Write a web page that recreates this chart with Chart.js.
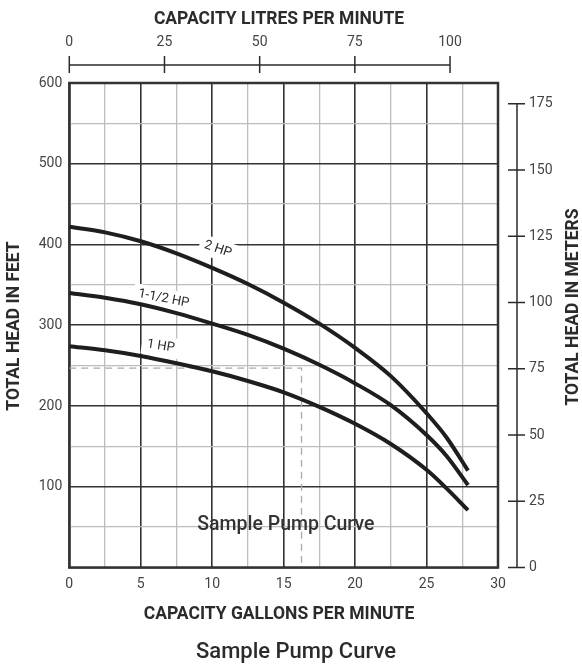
<!DOCTYPE html>
<html>
<head>
<meta charset="utf-8">
<script src="https://cdn.jsdelivr.net/npm/chart.js@4.4.1/dist/chart.umd.min.js"></script>
<style>
  html, body { margin: 0; padding: 0; background: #fff; }
</style>
</head>
<body>
<canvas id="pumpChart" width="582" height="664"></canvas>
<script>
// Capacity (US gallons per minute) where the curves were read
const gpm = [0, 2.5, 5, 7.5, 10, 12.5, 15, 17.5, 20, 22.5, 25, 26.4, 27.9];

// Total head in feet for each pump size
const head2hp  = [422, 415, 404, 389, 371, 351, 328, 302, 272, 237, 191, 161, 120];
const head15hp = [340, 334, 326, 315, 302, 288, 271, 251, 228, 201, 164, 138, 102];
const head1hp  = [274, 269, 262, 253, 243, 231, 217, 199, 178, 153, 121, 98, 71];

const curveNames = ['2 HP', '1-1/2 HP', '1 HP'];
// label anchor for each curve: [gpm, feet, tilt in degrees]
const curveLabelAt = [[10.4, 394, 19], [6.6, 333, 11], [6.4, 274, 9]];

// dashed guide to the sample duty point
const dutyGpm = 16.25;
const dutyFeet = 247;

// tick labels
const gpmTicks = [0, 5, 10, 15, 20, 25, 30];
const feetTicks = [100, 200, 300, 400, 500, 600];
const lpmTicks = [0, 25, 50, 75, 100];
const meterTicks = [0, 25, 50, 75, 100, 125, 150, 175];

// secondary scale ranges (same span as the gpm / feet axes)
const lpmMax = 112.6;
const meterMax = 600 / 3.281;

const INK = '#2b2b2b';
const TICK_FONT = '14px Roboto, sans-serif';
const TITLE_FONT = 'bold 17.5px Roboto, sans-serif';

const guideData = [
    { x: 0, y: dutyFeet },
    { x: dutyGpm, y: dutyFeet },
    { x: dutyGpm, y: 0 }
];

function curve(values) {
    return gpm.map((g, i) => ({ x: g, y: values[i] }));
}

const extras = {
    id: 'extras',
    beforeDatasetsDraw(chart) {
        const { ctx, chartArea: a, scales } = chart;
        ctx.save();
        // plot frame
        ctx.strokeStyle = '#333';
        ctx.lineWidth = 2.5;
        ctx.strokeRect(a.left, a.top, a.right - a.left, a.bottom - a.top);

        // curve names on white patches
        ctx.font = '13px Roboto, sans-serif';
        ctx.textAlign = 'center';
        ctx.textBaseline = 'middle';
        curveNames.forEach((name, i) => {
            const [g, f, tilt] = curveLabelAt[i];
            const px = scales.x.getPixelForValue(g);
            const py = scales.y.getPixelForValue(f);
            const w = ctx.measureText(name).width + 10;
            ctx.save();
            ctx.translate(px, py);
            ctx.rotate(tilt * Math.PI / 180);
            ctx.fillStyle = '#fff';
            ctx.fillRect(-w / 2, -10, w, 20);
            ctx.fillStyle = INK;
            ctx.fillText(name, 0, 0);
            ctx.restore();
        });
        ctx.restore();
    },
    afterDatasetsDraw(chart) {
        const { ctx, scales } = chart;
        ctx.save();
        ctx.font = '500 19.5px Roboto, sans-serif';
        ctx.fillStyle = '#333';
        ctx.textAlign = 'center';
        ctx.textBaseline = 'middle';
        ctx.fillText('Sample Pump Curve', scales.x.getPixelForValue(15.15), scales.y.getPixelForValue(53));
        ctx.restore();
    },
    afterDraw(chart) {
        const { ctx, scales } = chart;
        const top = scales.xTop;
        const right = scales.yM;
        ctx.save();
        ctx.strokeStyle = INK;
        ctx.fillStyle = '#444';
        ctx.lineWidth = 1.5;

        // top axis: litres per minute
        const lineY = 65;
        ctx.beginPath();
        ctx.moveTo(top.getPixelForValue(lpmTicks[0]), lineY);
        ctx.lineTo(top.getPixelForValue(lpmTicks[lpmTicks.length - 1]), lineY);
        lpmTicks.forEach(v => {
            const px = top.getPixelForValue(v);
            ctx.moveTo(px, lineY - 9);
            ctx.lineTo(px, lineY + 8);
        });
        ctx.stroke();
        ctx.font = TICK_FONT;
        ctx.textAlign = 'center';
        ctx.textBaseline = 'middle';
        lpmTicks.forEach(v => ctx.fillText(String(v), top.getPixelForValue(v), 42));

        // right axis: metres
        const lineX = 517;
        ctx.beginPath();
        ctx.moveTo(lineX, right.getPixelForValue(meterTicks[0]));
        ctx.lineTo(lineX, right.getPixelForValue(meterTicks[meterTicks.length - 1]));
        meterTicks.forEach(v => {
            const py = right.getPixelForValue(v);
            ctx.moveTo(lineX - 9, py);
            ctx.lineTo(lineX + 8, py);
        });
        ctx.stroke();
        ctx.textAlign = 'left';
        meterTicks.forEach(v => ctx.fillText(String(v), lineX + 12, right.getPixelForValue(v)));

        // titles
        ctx.fillStyle = INK;
        ctx.font = TITLE_FONT;
        ctx.textAlign = 'center';
        ctx.fillText('CAPACITY LITRES PER MINUTE', 279, 20);
        ctx.fillText('CAPACITY GALLONS PER MINUTE', 279, 615);

        ctx.save();
        ctx.translate(15, 326);
        ctx.rotate(-Math.PI / 2);
        ctx.fillText('TOTAL HEAD IN FEET', 0, 0);
        ctx.restore();

        ctx.save();
        ctx.translate(574, 307);
        ctx.rotate(-Math.PI / 2);
        ctx.fillText('TOTAL HEAD IN METERS', 0, 0);
        ctx.restore();

        ctx.font = '500 22px Roboto, sans-serif';
        ctx.fillText('Sample Pump Curve', 296, 652);
        ctx.restore();
    }
};

const curveStyle = {
    borderColor: '#1e1e1e',
    borderWidth: 4,
    pointRadius: 0,
    cubicInterpolationMode: 'monotone',
    fill: false
};

new Chart(document.getElementById('pumpChart'), {
    type: 'line',
    data: {
        datasets: [
            Object.assign({ label: curveNames[0], data: curve(head2hp) }, curveStyle),
            Object.assign({ label: curveNames[1], data: curve(head15hp) }, curveStyle),
            Object.assign({ label: curveNames[2], data: curve(head1hp) }, curveStyle),
            {
                label: 'Sample point',
                data: guideData,
                borderColor: '#aaa',
                borderWidth: 1.3,
                borderDash: [7, 5],
                pointRadius: 0,
                tension: 0
            }
        ]
    },
    options: {
        responsive: false,
        animation: false,
        layout: { padding: { top: 83, right: 84, bottom: 66, left: 0 } },
        plugins: {
            legend: { display: false },
            tooltip: { enabled: false }
        },
        scales: {
            x: {
                type: 'linear',
                min: 0,
                max: 30,
                afterFit: s => { s.height = 30.5; },
                border: { display: false },
                grid: {
                    drawTicks: false,
                    lineWidth: c => (c.tick.value % 5 === 0 ? 1.6 : 1.3),
                    color: c => (c.tick.value % 5 === 0 ? '#333' : '#bdbdbd')
                },
                ticks: {
                    stepSize: 2.5,
                    autoSkip: false,
                    maxRotation: 0,
                    padding: 9,
                    color: '#444',
                    font: { family: 'Roboto', size: 14 },
                    callback: v => (gpmTicks.includes(v) ? v : '')
                }
            },
            y: {
                type: 'linear',
                min: 0,
                max: 600,
                afterFit: s => { s.width = 69.3; },
                border: { display: false },
                grid: {
                    drawTicks: false,
                    lineWidth: c => (c.tick.value % 100 === 0 ? 1.6 : 1.3),
                    color: c => (c.tick.value % 100 === 0 ? '#333' : '#bdbdbd')
                },
                ticks: {
                    stepSize: 50,
                    autoSkip: false,
                    padding: 7,
                    color: '#444',
                    font: { family: 'Roboto', size: 14 },
                    callback: v => (feetTicks.includes(v) ? v : '')
                }
            },
            xTop: {
                type: 'linear',
                position: 'top',
                min: 0,
                max: lpmMax,
                display: false
            },
            yM: {
                type: 'linear',
                position: 'right',
                min: 0,
                max: meterMax,
                display: false
            }
        }
    },
    plugins: [extras]
});
</script>
</body>
</html>
